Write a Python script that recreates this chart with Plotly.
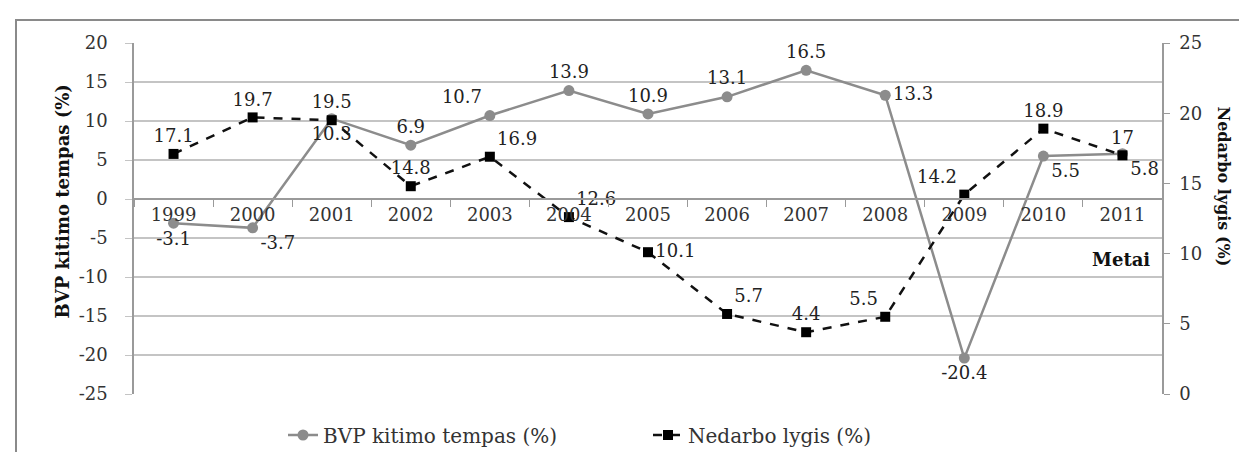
import plotly.graph_objects as go

years = ["1999", "2000", "2001", "2002", "2003", "2004", "2005", "2006", "2007", "2008", "2009", "2010", "2011"]
bvp = [-3.1, -3.7, 10.3, 6.9, 10.7, 13.9, 10.9, 13.1, 16.5, 13.3, -20.4, 5.5, 5.8]
nedarbo = [17.1, 19.7, 19.5, 14.8, 16.9, 12.6, 10.1, 5.7, 4.4, 5.5, 14.2, 18.9, 17]
left_ticks = [-25, -20, -15, -10, -5, 0, 5, 10, 15, 20]
right_ticks = [0, 5, 10, 15, 20, 25]

bvp_pos = ["bottom center", "bottom right", "bottom center", "top center", "top left", "top center",
           "top center", "top center", "top center", "middle right", "bottom center", "bottom right", "bottom right"]
ned_pos = ["top center", "top center", "top center", "top center", "top right", "top right",
           "middle right", "top right", "top center", "top left", "top left", "top center", "top center"]

FONT = "DejaVu Serif"
FS = 18
W, H = 1247, 452
L, R, T, B = 126, 93, 35, 66
pw, ph = W - L - R, H - T - B

def px(x):
    return (x - L) / pw

def py(y):
    return (H - B - y) / ph

fig = go.Figure()
fig.add_trace(go.Scatter(
    x=years, y=bvp, name="BVP kitimo tempas (%)", mode="lines+markers+text",
    line=dict(color="#8c8c8c", width=2.5),
    marker=dict(color="#8c8c8c", size=11, symbol="circle"),
    text=[str(v) for v in bvp], textposition=bvp_pos,
    textfont=dict(family=FONT, size=FS, color="#222"),
    yaxis="y", cliponaxis=False,
))
fig.add_trace(go.Scatter(
    x=years, y=nedarbo, name="Nedarbo lygis (%)", mode="lines+markers+text",
    line=dict(color="#111", width=2.5, dash="dash"),
    marker=dict(color="#000", size=10, symbol="square"),
    text=[str(v) for v in nedarbo], textposition=ned_pos,
    textfont=dict(family=FONT, size=FS, color="#222"),
    yaxis="y2", cliponaxis=False,
))

zero_frac = 25 / 45

fig.update_layout(
    width=W, height=H,
    margin=dict(l=L, r=R, t=T, b=B, autoexpand=False),
    paper_bgcolor="white", plot_bgcolor="white",
    font=dict(family=FONT, size=FS, color="#333"),
    showlegend=True,
    legend=dict(orientation="h", x=0.5, xanchor="center", y=py(427), yanchor="middle",
                font=dict(family=FONT, size=20, color="#333"), entrywidth=320, entrywidthmode="pixels"),
    xaxis=dict(type="category", range=[-0.5, 12.5], anchor="free", position=zero_frac,
               showline=True, linecolor="#9a9a9a", linewidth=1.5,
               ticks="outside", tickson="boundaries", ticklen=7, tickcolor="#9a9a9a",
               showgrid=False, tickfont=dict(family=FONT, size=FS, color="#333")),
    yaxis=dict(range=[-25, 20], tickvals=left_ticks, ticktext=[str(v) for v in left_ticks],
               showgrid=True, gridcolor="#c4c4c4", gridwidth=1.5,
               showline=True, linecolor="#9a9a9a", linewidth=1.5, zeroline=False,
               ticks="outside", ticklen=7, tickcolor="#c4c4c4", ticklabelstandoff=14,
               tickfont=dict(family=FONT, size=FS, color="#333")),
    yaxis2=dict(range=[0, 25], tickvals=right_ticks, ticktext=[str(v) for v in right_ticks],
                overlaying="y", side="right", showgrid=False,
                showline=True, linecolor="#9a9a9a", linewidth=1.5, zeroline=False,
                ticks="outside", ticklen=6, tickcolor="#9a9a9a", ticklabelstandoff=6,
                tickfont=dict(family=FONT, size=FS, color="#333")),
    shapes=[dict(type="rect", xref="paper", yref="paper",
                 x0=px(8), x1=px(1252), y0=py(456), y1=py(12),
                 line=dict(color="#8a8a8a", width=2), layer="below")],
    annotations=[
        dict(text="<b>BVP kitimo tempas (%)</b>", xref="paper", yref="paper",
             x=px(42), y=py(194), textangle=-90, showarrow=False,
             font=dict(family=FONT, size=18, color="#111")),
        dict(text="<b>Nedarbo lygis (%)</b>", xref="paper", yref="paper",
             x=px(1227), y=py(178), textangle=90, showarrow=False,
             font=dict(family=FONT, size=16, color="#111")),
        dict(text="<b>Metai</b>", xref="paper", yref="paper",
             x=px(1144), y=py(251), xanchor="right", yanchor="middle", showarrow=False,
             font=dict(family=FONT, size=18, color="#111")),
    ],
)

fig.write_html("out.html")
